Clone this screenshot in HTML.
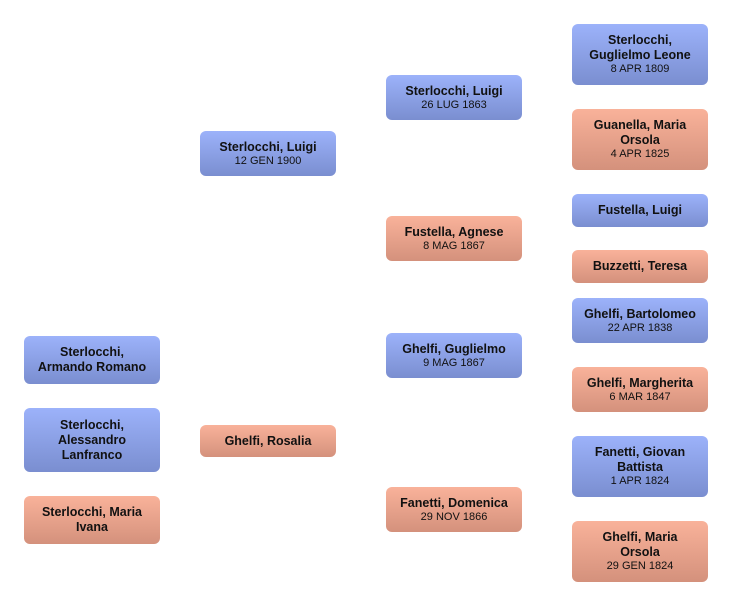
<!DOCTYPE html>
<html><head><meta charset="utf-8"><style>
body{margin:0;width:732px;height:606px;background:#fff;position:relative;font-family:"Liberation Sans",sans-serif;}
.b{position:absolute;width:136px;border-radius:6px;display:flex;flex-direction:column;justify-content:center;align-items:center;text-align:center;color:#111;box-sizing:border-box;padding:0 4px;}
.m{background:linear-gradient(#9cb2fa,#7a8ed0);}
.f{background:linear-gradient(#f9b29a,#d4917c);}
.n{font-size:12.5px;font-weight:bold;line-height:15px;}
.d{font-size:11px;line-height:13px;}
</style></head><body>
<div class="b m" style="left:24px;top:336px;height:48px"><div class="n">Sterlocchi,<br>Armando Romano</div></div>
<div class="b m" style="left:24px;top:408px;height:64px"><div class="n">Sterlocchi,<br>Alessandro<br>Lanfranco</div></div>
<div class="b f" style="left:24px;top:496px;height:48px"><div class="n">Sterlocchi, Maria<br>Ivana</div></div>

<div class="b m" style="left:200px;top:131px;height:45px"><div class="n">Sterlocchi, Luigi</div><div class="d">12 GEN 1900</div></div>
<div class="b f" style="left:200px;top:425px;height:32px"><div class="n">Ghelfi, Rosalia</div></div>

<div class="b m" style="left:386px;top:75px;height:45px"><div class="n">Sterlocchi, Luigi</div><div class="d">26 LUG 1863</div></div>
<div class="b f" style="left:386px;top:216px;height:45px"><div class="n">Fustella, Agnese</div><div class="d">8 MAG 1867</div></div>
<div class="b m" style="left:386px;top:333px;height:45px"><div class="n">Ghelfi, Guglielmo</div><div class="d">9 MAG 1867</div></div>
<div class="b f" style="left:386px;top:487px;height:45px"><div class="n">Fanetti, Domenica</div><div class="d">29 NOV 1866</div></div>

<div class="b m" style="left:572px;top:24px;height:61px"><div class="n">Sterlocchi,<br>Guglielmo Leone</div><div class="d">8 APR 1809</div></div>
<div class="b f" style="left:572px;top:109px;height:61px"><div class="n">Guanella, Maria<br>Orsola</div><div class="d">4 APR 1825</div></div>
<div class="b m" style="left:572px;top:194px;height:33px"><div class="n">Fustella, Luigi</div></div>
<div class="b f" style="left:572px;top:250px;height:33px"><div class="n">Buzzetti, Teresa</div></div>
<div class="b m" style="left:572px;top:298px;height:45px"><div class="n">Ghelfi, Bartolomeo</div><div class="d">22 APR 1838</div></div>
<div class="b f" style="left:572px;top:367px;height:45px"><div class="n">Ghelfi, Margherita</div><div class="d">6 MAR 1847</div></div>
<div class="b m" style="left:572px;top:436px;height:61px"><div class="n">Fanetti, Giovan<br>Battista</div><div class="d">1 APR 1824</div></div>
<div class="b f" style="left:572px;top:521px;height:61px"><div class="n">Ghelfi, Maria<br>Orsola</div><div class="d">29 GEN 1824</div></div>
</body></html>
